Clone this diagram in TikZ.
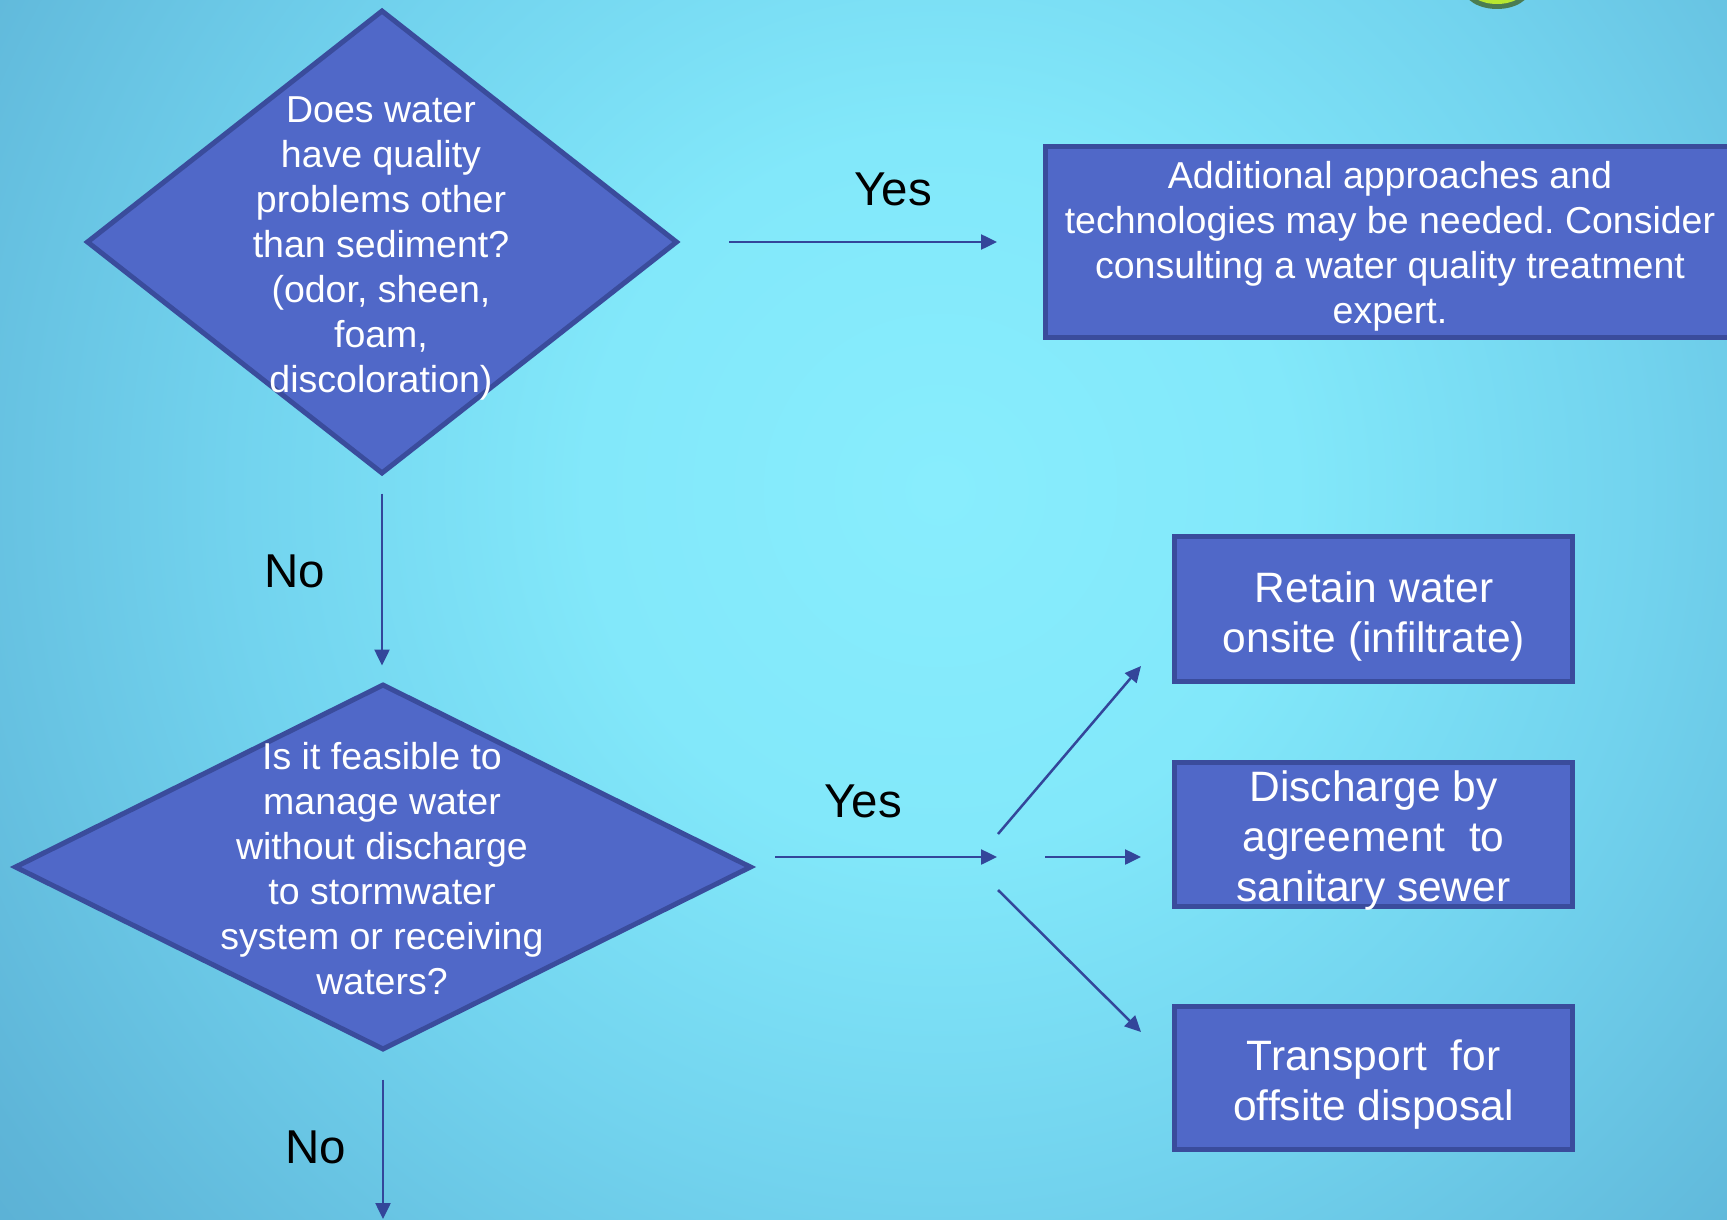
\documentclass[tikz,border=0pt]{standalone}
\usepackage{fontspec}
\setmainfont{Liberation Sans}
\usetikzlibrary{shapes.geometric,arrows.meta}
\definecolor{bgc0}{HTML}{88EDFD}
\definecolor{bgc1}{HTML}{82E8FA}
\definecolor{bgc2}{HTML}{72D3EE}
\definecolor{bgc3}{HTML}{5EB5D8}
\definecolor{bgc4}{HTML}{55A6CC}
\definecolor{bgc5}{HTML}{4890BC}
\definecolor{shapefill}{HTML}{5068C8}
\definecolor{shapeline}{HTML}{3A4C9C}
\definecolor{arrowc}{HTML}{33469A}
\definecolor{limec}{HTML}{B8E830}
\definecolor{limed}{HTML}{3C5A10}
\pgfdeclareradialshading{bgshade}{\pgfpoint{0bp}{0bp}}{color(0bp)=(bgc0); color(7.07bp)=(bgc1); color(14.1bp)=(bgc2); color(22.6bp)=(bgc3); color(28.3bp)=(bgc4); color(35.4bp)=(bgc5); color(50bp)=(bgc5)}
\frenchspacing
\begin{document}
\begin{tikzpicture}[x=1pt,y=-1pt,
  decision/.style={diamond, draw=shapeline, fill=shapefill, line width=5pt, inner sep=0pt},
  boxnode/.style={rectangle, draw=shapeline, fill=shapefill, line width=5pt, inner sep=0pt},
  txt/.style={text=white, align=center, inner sep=0pt, font=\fontsize{37.5}{45}\selectfont},
  bigtxt/.style={text=white, align=center, inner sep=0pt, font=\fontsize{42.5}{50}\selectfont},
  lab/.style={text=black, inner sep=0pt, font=\fontsize{47.5}{52}\selectfont},
  arr/.style={draw=arrowc, line width=2.5pt, -{Triangle[length=16pt,width=15pt]}}]
\useasboundingbox (0,0) rectangle (1727,1220);
\begin{scope}
\clip (0,0) rectangle (1727,1220);
\fill[bgc5] (0,0) rectangle (1727,1220);
\shade[shading=bgshade] (940,490) circle[radius=1250pt];
\fill[limed, opacity=0.7] (1497,-11) ellipse[x radius=33pt, y radius=20pt];
\fill[limec] (1497,-14) ellipse[x radius=30pt, y radius=18pt];
\end{scope}

% decision 1
\node[decision, minimum width=591pt, minimum height=464pt] (d1) at (382,242) {};
\node[txt] (d1t) at (381,248) {Does water\\have quality\\problems other\\than sediment?\\(odor, sheen,\\foam,\\discoloration)};

% box 1
\node[boxnode, minimum width=689pt, minimum height=191pt] (b1) at (1390,242) {};
\node[txt] (b1t) at (1390,246.5) {Additional approaches and\\technologies may be needed. Consider\\consulting a water quality treatment\\expert.};

% decision 2
\node[decision, minimum width=737pt, minimum height=366pt] (d2) at (383,867) {};
\node[txt] (d2t) at (382,869) {Is it feasible to\\manage water\\without discharge\\to stormwater\\system or receiving\\waters?};

% outcome boxes
\node[boxnode, minimum width=398pt, minimum height=145pt] (r1) at (1373.5,609) {};
\node[bigtxt] (r1t) at (1374,616.5) {Retain water\\onsite (infiltrate)};
\node[boxnode, minimum width=398pt, minimum height=144pt] (r2) at (1373.5,834.5) {};
\node[bigtxt] (r2t) at (1373.5,840.5) {Discharge by\\agreement\ \ to\\sanitary sewer};
\node[boxnode, minimum width=398pt, minimum height=143pt] (r3) at (1373.5,1078) {};
\node[bigtxt] (r3t) at (1373.5,1084.5) {Transport\ \ for\\offsite disposal};

% labels
\node[lab] (ly1) at (893,189) {Yes};
\node[lab] (ln1) at (295,571) {No};
\node[lab] (ly2) at (863,801) {Yes};
\node[lab] (ln2) at (316,1147) {No};

% coordinates
\coordinate (y2s) at (775,857);
\coordinate (hub) at (997,857);
\coordinate (bu) at (998,834);
\coordinate (bm) at (1045,857);
\coordinate (bl) at (998,890);
\coordinate (eu) at (1141,666);
\coordinate (em) at (1141,857);
\coordinate (el) at (1141,1032);
\coordinate (n2e) at (383,1219);

% connectors
\draw[arr, shorten <=49pt, shorten >=46pt] (d1.east) -- (b1.west);
\draw[arr, shorten <=17pt, shorten >=16pt] (d1.south) -- (d1.south |- d2.north);
\draw[arr] (y2s) -- (hub);
\draw[arr] (bu) -- (eu);
\draw[arr] (bm) -- (em);
\draw[arr] (bl) -- (el);
\draw[arr, shorten <=27pt] (d2.south) -- (n2e);
\end{tikzpicture}
\end{document}
